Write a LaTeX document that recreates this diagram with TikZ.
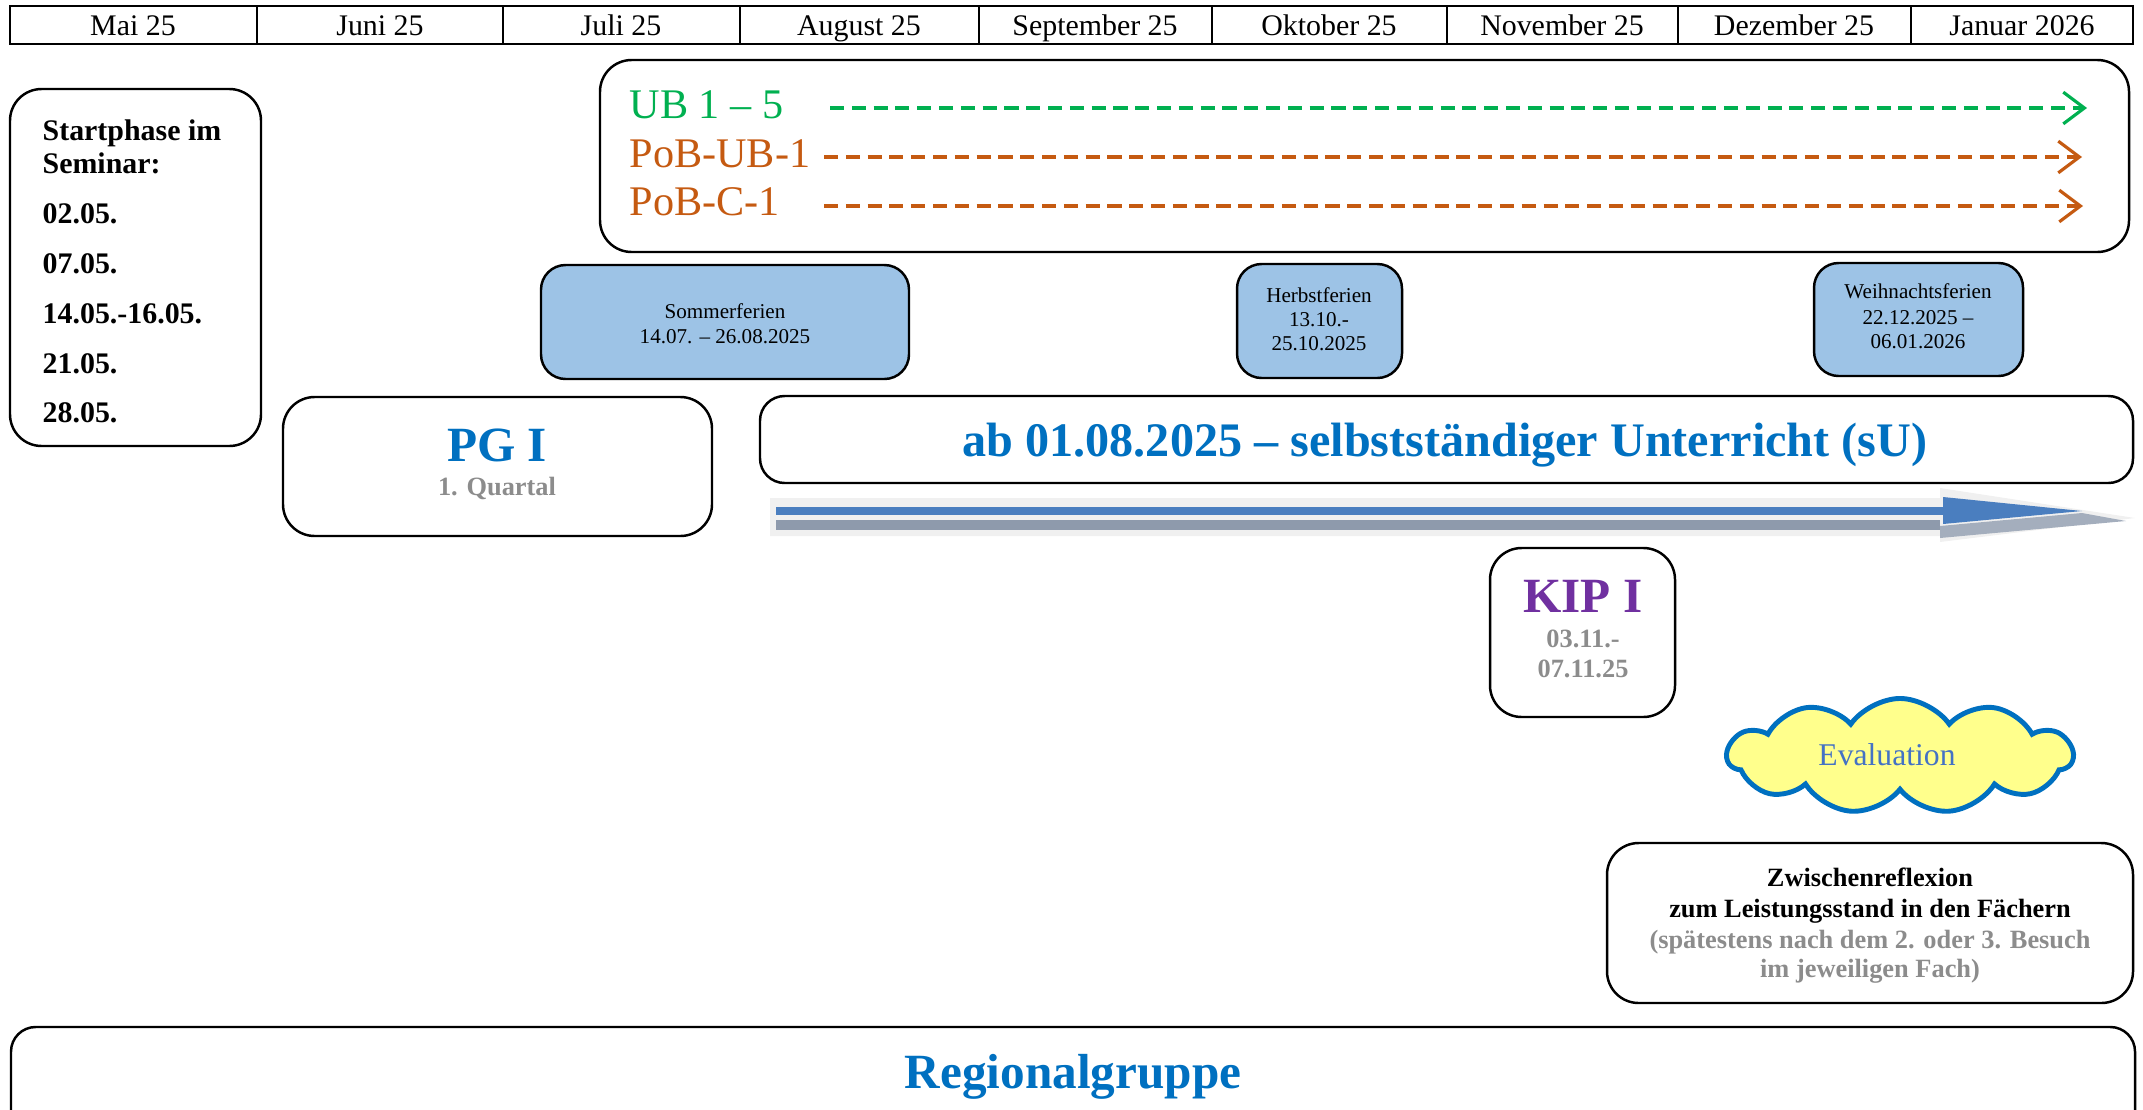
\documentclass[tikz,border=0pt]{standalone}
\usepackage{fontspec}
\setmainfont{Liberation Serif}
\usepackage{xcolor}
\usetikzlibrary{positioning, arrows.meta, fit, shapes.symbols}
\definecolor{ubgreen}{HTML}{00B050}
\definecolor{pobrown}{HTML}{C55A11}
\definecolor{titleblue}{HTML}{0070C0}
\definecolor{ferienblue}{HTML}{9DC3E6}
\definecolor{kippurple}{HTML}{7030A0}
\definecolor{notegray}{HTML}{8C8C8C}
\definecolor{evalblue}{HTML}{4472C4}
\definecolor{cloudyellow}{HTML}{FFFF8C}
\definecolor{arrowblue}{HTML}{4A7EBF}
\definecolor{shadowgray}{HTML}{8E9AAC}
\newcommand{\setsz}[1]{\fontsize{#1}{#1}\selectfont}

\begin{document}
\begin{tikzpicture}[x=0.01cm, y=-0.01cm,
  box/.style={draw, line width=0.7pt, rounded corners=8pt, inner sep=0pt},
  ferien/.style={box, fill=ferienblue, rounded corners=7pt},
  txt/.style={anchor=base, inner sep=0pt},
  dasharrow/.style={line width=0.9pt, dash pattern=on 4pt off 2.2pt,
    -{Straight Barb[length=6pt, width=9pt, line width=0.9pt]}}]
\useasboundingbox (0,0) rectangle (2143,1109);
% month header
\draw[line width=0.6pt] (10,6) rectangle (2133,44);
\foreach \x in {257,503,740,979,1212,1447,1678,1911}
  \draw[line width=0.6pt] (\x,6) -- (\x,44);
\foreach \m/\x in {Mai 25/133, Juni 25/380, Juli 25/621, August 25/859,
    September 25/1095, Oktober 25/1329, November 25/1562,
    Dezember 25/1794, Januar 2026/2022}
  \node[txt, font=\setsz{8.5pt}] (month-\x) at (\x,35) {\m};
% Startphase
\node[box, rounded corners=9pt, fit={(10,89) (261,446)}] (start) {};
\foreach \t/\y in {Startphase im/140, Seminar:/173, 02.05./223, 07.05./273,
    14.05.-16.05./323, 21.05./373, 28.05./422}
  \node[txt, anchor=base west, font=\bfseries\setsz{8.5pt}] (start-\y) at (42,\y) {\t};
% UB and PoB
\node[box, rounded corners=9pt, fit={(600,60) (2129,252)}] (ub) {};
\node[txt, anchor=base west, text=ubgreen, font=\setsz{12pt}] (ub-lab) at (629,118) {UB 1 – 5};
\node[txt, anchor=base west, text=pobrown, font=\setsz{12pt}] (pobub-lab) at (629,167) {PoB-UB-1};
\node[txt, anchor=base west, text=pobrown, font=\setsz{12pt}] (pobc-lab) at (629,215) {PoB-C-1};
\coordinate (ub-s) at (830,108);    \coordinate (ub-e) at (2087,108);
\coordinate (pobub-s) at (824,157); \coordinate (pobub-e) at (2082,157);
\coordinate (pobc-s) at (824,206);  \coordinate (pobc-e) at (2083,206);
\draw[dasharrow, ubgreen] (ub-s) -- (ub-e);
\draw[dasharrow, pobrown] (pobub-s) -- (pobub-e);
\draw[dasharrow, pobrown] (pobc-s) -- (pobc-e);
% holidays
\node[ferien, fit={(541,265) (909,379)}] (sommer) {};
\node[txt, font=\setsz{6pt}] (sommer-1) at (725,318) {Sommerferien};
\node[txt, font=\setsz{6pt}] (sommer-2) at (725,343) {14.07. – 26.08.2025};
\node[ferien, fit={(1237,264) (1402,378)}] (herbst) {};
\node[txt, font=\setsz{6pt}] (herbst-1) at (1319,302) {Herbstferien};
\node[txt, font=\setsz{6pt}] (herbst-2) at (1319,326) {13.10.-};
\node[txt, font=\setsz{6pt}] (herbst-3) at (1319,350) {25.10.2025};
\node[ferien, fit={(1814,263) (2023,376)}] (weihn) {};
\node[txt, font=\setsz{6pt}] (weihn-1) at (1918,298) {Weihnachtsferien};
\node[txt, font=\setsz{6pt}] (weihn-2) at (1918,324) {22.12.2025 –};
\node[txt, font=\setsz{6pt}] (weihn-3) at (1918,348) {06.01.2026};
% PG I
\node[box, rounded corners=9pt, fit={(283,397) (712,536)}] (pg) {};
\node[txt, text=titleblue, font=\bfseries\setsz{14pt}] (pg-1) at (497,461) {PG I};
\node[txt, text=notegray, font=\bfseries\setsz{7.5pt}] (pg-2) at (497,495) {1. Quartal};
% selbststaendiger Unterricht
\node[box, rounded corners=7pt, fit={(760,396) (2133,483)}] (su) {};
\node[txt, text=titleblue, font=\bfseries\setsz{13.7pt}] (su-1) at (1445,456) {ab 01.08.2025 – selbstständiger Unterricht (sU)};
% big arrow
\fill[black!6] (770,498) -- (1940,498) -- (1940,488) -- (2135,518) -- (1940,542) -- (1940,536) -- (770,536) -- cycle;
\fill[shadowgray] (776,520) rectangle (1940,530);
\fill[shadowgray!80] (1940,526) -- (2082,513) -- (2126,521) -- (1940,538) -- cycle;
\fill[arrowblue] (776,507) rectangle (1943,515);
\fill[arrowblue] (1943,497) -- (2082,511) -- (1943,524) -- cycle;
% KIP I
\node[box, rounded corners=9pt, fit={(1490,548) (1675,717)}] (kip) {};
\node[txt, text=kippurple, font=\bfseries\setsz{14pt}] (kip-1) at (1583,612) {KIP I};
\node[txt, text=notegray, font=\bfseries\setsz{7.5pt}] (kip-2) at (1583,647) {03.11.-};
\node[txt, text=notegray, font=\bfseries\setsz{7.5pt}] (kip-3) at (1583,677) {07.11.25};
% Evaluation
\node[cloud, cloud puffs=11, cloud puff arc=110, aspect=3, draw=titleblue,
  line width=1.4pt, fill=cloudyellow, minimum width=3.45cm, minimum height=1.15cm,
  inner sep=0pt] (eval) at (1900,756) {};
\node[txt, text=evalblue, font=\setsz{9pt}] (eval-1) at (1887,765) {Evaluation};
% Zwischenreflexion
\node[box, rounded corners=9pt, fit={(1607,843) (2133,1003)}] (zwr) {};
\node[txt, font=\bfseries\setsz{7.5pt}] (zwr-1) at (1870,886) {Zwischenreflexion};
\node[txt, font=\bfseries\setsz{7.5pt}] (zwr-2) at (1870,917) {zum Leistungsstand in den Fächern};
\node[txt, text=notegray, font=\bfseries\setsz{7.5pt}] (zwr-3) at (1870,948) {(spätestens nach dem 2. oder 3. Besuch};
\node[txt, text=notegray, font=\bfseries\setsz{7.5pt}] (zwr-4) at (1870,977) {im jeweiligen Fach)};
% Regionalgruppe
\node[box, rounded corners=7pt, fit={(11,1027) (2135,1150)}] (regio) {};
\node[txt, text=titleblue, font=\bfseries\setsz{14pt}] (regio-1) at (1073,1088) {Regionalgruppe};
\end{tikzpicture}
\end{document}
